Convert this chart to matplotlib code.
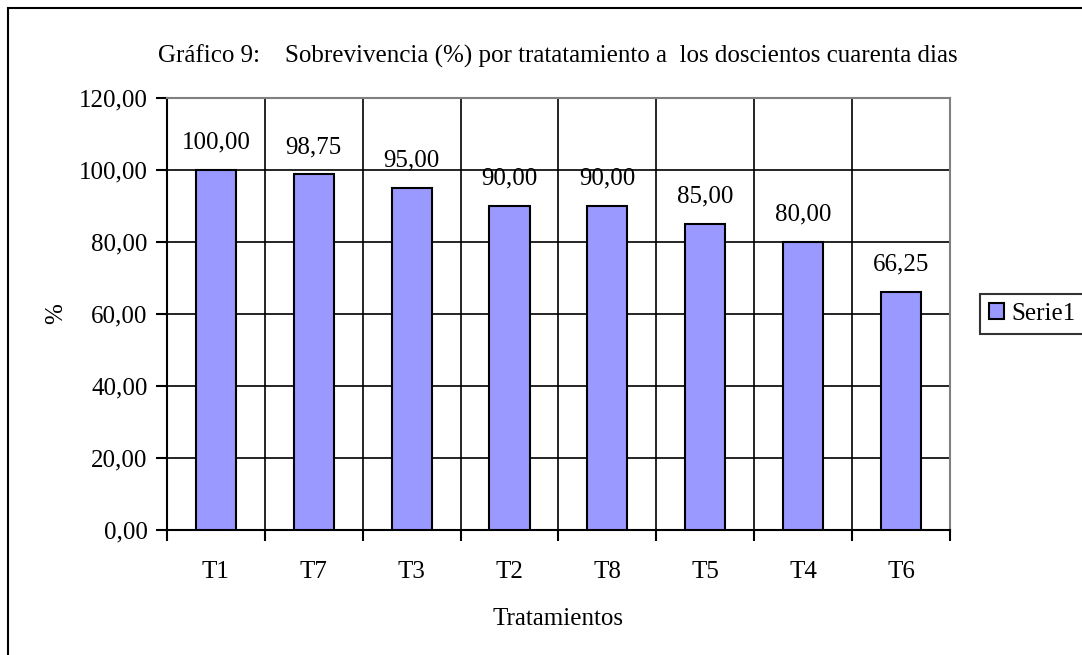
import matplotlib
matplotlib.use("Agg")
import matplotlib.pyplot as plt
from matplotlib.patches import Rectangle

# datos del grafico
tratamientos = ["T1", "T7", "T3", "T2", "T8", "T5", "T4", "T6"]
sobrevivencia = [100.00, 98.75, 95.00, 90.00, 90.00, 85.00, 80.00, 66.25]
y_ticks = [0, 20, 40, 60, 80, 100, 120]

plt.rcParams['font.family'] = ['Liberation Serif', 'DejaVu Serif']
FS = 18

fig = plt.figure(figsize=(10.82, 6.55), dpi=100)
ax = fig.add_axes([0.1543, 0.1908, 0.7237, 0.6596])

# borde exterior del grafico
fig.patches.append(Rectangle((8 / 1082, -0.01), 1.0, 1.01 - 8 / 655, transform=fig.transFigure,
                             fill=False, edgecolor='black', linewidth=1.5))

x = list(range(len(tratamientos)))
bars = ax.bar(x, sobrevivencia, width=0.41, color='#9999FF', edgecolor='black',
              linewidth=1.5, label='Serie1', zorder=3)

for xi, v in zip(x, sobrevivencia):
    ax.text(xi, v + 4.5, f"{v:.2f}".replace('.', ','), ha='center', va='bottom', fontsize=FS)

ax.set_xlim(-0.5, len(tratamientos) - 0.5)
ax.set_ylim(0, 120)
ax.set_yticks(y_ticks)
ax.set_yticklabels([f"{v:.2f}".replace('.', ',') for v in y_ticks], fontsize=FS)

# ticks en los limites de categorias, etiquetas centradas
ax.set_xticks([i - 0.5 for i in range(len(tratamientos) + 1)])
ax.set_xticklabels([])
ax.set_xticks(x, minor=True)
ax.set_xticklabels(tratamientos, minor=True, fontsize=FS)
ax.tick_params(axis='x', which='minor', length=0, pad=22)
ax.tick_params(axis='x', which='major', length=8, width=1.5, direction='out')
ax.tick_params(axis='y', length=8, width=1.5, direction='out', pad=6)

ax.grid(axis='y', color='black', linewidth=1.2, zorder=0)
ax.grid(axis='x', which='major', color='black', linewidth=1.2, zorder=0)
ax.set_axisbelow(True)

ax.spines['left'].set_linewidth(1.5)
ax.spines['bottom'].set_linewidth(1.5)
ax.spines['top'].set_color('#808080')
ax.spines['right'].set_color('#808080')
ax.spines['top'].set_linewidth(1.5)
ax.spines['right'].set_linewidth(1.5)

ax.set_xlabel("Tratamientos", fontsize=FS, labelpad=18)
ax.set_ylabel("%", fontsize=FS, labelpad=8)

fig.text(0.516, 0.914, "Gráfico 9:    Sobrevivencia (%) por tratatamiento a  los doscientos cuarenta dias",
         ha='center', va='center', fontsize=FS)

leg = ax.legend(loc='center left', bbox_to_anchor=(1.038, 0.5), fontsize=FS, frameon=True,
                fancybox=False, edgecolor='black', handlelength=0.6, handleheight=0.6,
                handletextpad=0.3, borderpad=0.35, borderaxespad=0)
leg.get_frame().set_linewidth(1.5)

fig.savefig("out.png", dpi=100)
